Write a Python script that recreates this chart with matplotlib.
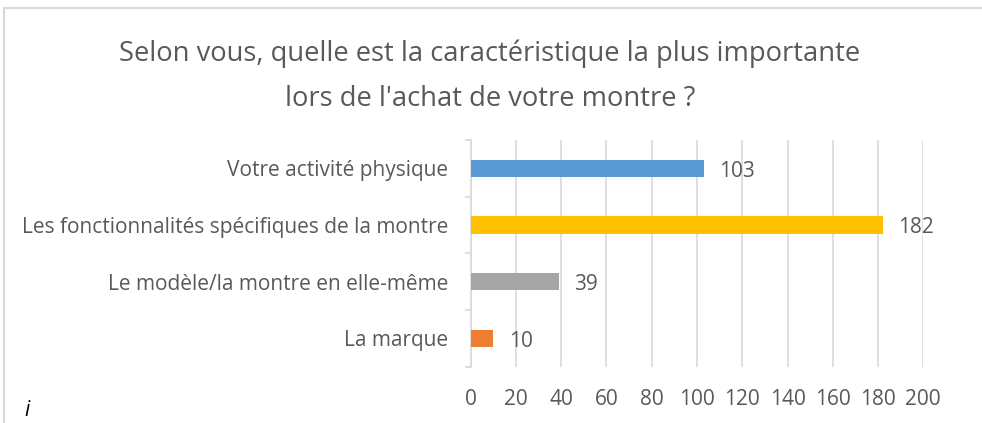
import matplotlib
matplotlib.use("Agg")
import matplotlib.pyplot as plt
from matplotlib.patches import Rectangle

categories = ["La marque", "Le modèle/la montre en elle-même",
              "Les fonctionnalités spécifiques de la montre", "Votre activité physique"]
values = [10, 39, 182, 103]
colors = ["#ED7D31", "#A5A5A5", "#FFC000", "#5B9BD5"]
xticks = [0, 20, 40, 60, 80, 100, 120, 140, 160, 180, 200]
title = "Selon vous, quelle est la caractéristique la plus importante\nlors de l'achat de votre montre ?"

FONT = "Open Sans"
TXT = "#595959"
GRID = "#D9D9D9"
FS = 15

fig = plt.figure(figsize=(9.82, 4.23), dpi=100)
fig.patches.append(Rectangle((3.5/982, -0.1), 1.1, 1 - 8.5/423 + 0.1, transform=fig.transFigure,
                             fill=False, edgecolor=GRID, linewidth=1.5))

ax = fig.add_axes([470.7/982, 1 - 366.7/423, 452.6/982, 226.7/423])
ypos = list(range(len(categories)))
ax.barh(ypos, values, height=0.31, color=colors, zorder=3)
ax.set_xlim(0, 200)
ax.set_ylim(-0.5, len(categories) - 0.5)
ax.set_xticks(xticks)
ax.set_xticklabels([str(t) for t in xticks])
ax.set_yticks(ypos)
ax.set_yticklabels(categories)
ax.set_yticks([i - 0.5 for i in range(len(categories) + 1)], minor=True)

for s in ["top", "right", "bottom"]:
    ax.spines[s].set_visible(False)
ax.spines["left"].set_color(GRID)
ax.spines["left"].set_linewidth(1.2)
ax.grid(axis="x", color=GRID, linewidth=1.2, zorder=0)
ax.tick_params(axis="x", length=0, pad=16, labelsize=FS, labelcolor=TXT)
ax.tick_params(axis="y", which="major", length=0, pad=16, labelsize=FS, labelcolor=TXT)
ax.tick_params(axis="y", which="minor", length=4.5, color=GRID, width=1.2)
for lab in ax.get_xticklabels() + ax.get_yticklabels():
    lab.set_fontfamily(FONT)
for lab in ax.get_yticklabels():
    lab.set_verticalalignment("center_baseline")

for y, v in zip(ypos, values):
    ax.annotate(str(v), (v, y), xytext=(11, -2), textcoords="offset points",
                ha="left", va="center", fontsize=FS, color=TXT, family=FONT)

fig.text(490/982, 1 - 76.5/423, title, ha="center", va="center", fontsize=19.7,
         color=TXT, family=FONT, linespacing=1.81)
fig.text(24/982, 1 - 410/423, "i", ha="left", va="center", fontsize=15,
         style="italic", color="black", family=FONT)

fig.savefig("out.png", dpi=100)
